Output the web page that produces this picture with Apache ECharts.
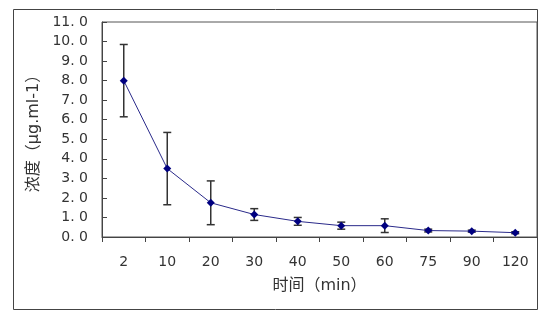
<!DOCTYPE html>
<html><head><meta charset="utf-8">
<script src="https://cdn.jsdelivr.net/npm/echarts@6/dist/echarts.min.js"></script>
<style>html,body{margin:0;padding:0;background:#fff}#c{width:553px;height:325px}</style>
</head><body><div id="c"></div>
<script>
var categories = ['2','10','20','30','40','50','60','75','90','120'];
var means = [8.0, 3.5, 1.75, 1.15, 0.8, 0.58, 0.58, 0.33, 0.3, 0.22];
var errors = [1.85, 1.85, 1.12, 0.3, 0.2, 0.18, 0.35, 0.07, 0.05, 0.05];
var yTicks = {min: 0, max: 11, interval: 1};
var xName = '时间（min）';
var yName = '浓度（μg.ml-1）';

var font = '"DejaVu Sans", "Noto Sans CJK SC", sans-serif';
var chart = echarts.init(document.getElementById('c'));
var errData = categories.map(function(c, i){ return [i, means[i] - errors[i], means[i] + errors[i]]; });
chart.setOption({
  animation: false,
  graphic: [{type:'rect', shape:{x:13.5, y:9.5, width:524, height:300}, style:{fill:'none', stroke:'#444', lineWidth:1}, z:-1}],
  grid: {left:102, top:22, width:435, height:215, show:true, borderColor:'#555', borderWidth:1},
  xAxis: {
    type:'category', data: categories, boundaryGap:true,
    name: xName, nameLocation:'middle', nameGap:41,
    nameTextStyle:{fontFamily:font, fontSize:16, color:'#333'},
    axisLine:{lineStyle:{color:'#444', width:1}},
    axisTick:{show:true, inside:false, length:5, lineStyle:{color:'#444'}},
    axisLabel:{fontFamily:font, fontSize:14, color:'#333', margin:18}
  },
  yAxis: {
    type:'value', min:yTicks.min, max:yTicks.max, interval:yTicks.interval,
    name: yName, nameLocation:'middle', nameGap:55,
    nameTextStyle:{fontFamily:font, fontSize:16, color:'#333'},
    axisLine:{show:true, lineStyle:{color:'#444', width:1}},
    axisTick:{show:true, inside:true, length:5, lineStyle:{color:'#444'}},
    splitLine:{show:false},
    axisLabel:{fontFamily:font, fontSize:14, color:'#333', margin:14,
      formatter:function(v){ return v.toFixed(1).replace('.', '. '); }}
  },
  series: [
    {
      type:'custom', data: errData, z:2,
      renderItem: function(params, api){
        var x = api.value(0);
        var lo = api.coord([x, api.value(1)]);
        var hi = api.coord([x, api.value(2)]);
        var h = 4;
        var st = {stroke:'#333', lineWidth:1.5};
        return {type:'group', children:[
          {type:'line', shape:{x1:lo[0], y1:lo[1], x2:hi[0], y2:hi[1]}, style:st},
          {type:'line', shape:{x1:lo[0]-h, y1:lo[1], x2:lo[0]+h, y2:lo[1]}, style:st},
          {type:'line', shape:{x1:hi[0]-h, y1:hi[1], x2:hi[0]+h, y2:hi[1]}, style:st}
        ]};
      }
    },
    {
      type:'line', data: means, z:3,
      symbol:'diamond', symbolSize:8,
      itemStyle:{color:'#000080'},
      lineStyle:{color:'#2a2a8a', width:1}
    }
  ]
});
</script></body></html>
